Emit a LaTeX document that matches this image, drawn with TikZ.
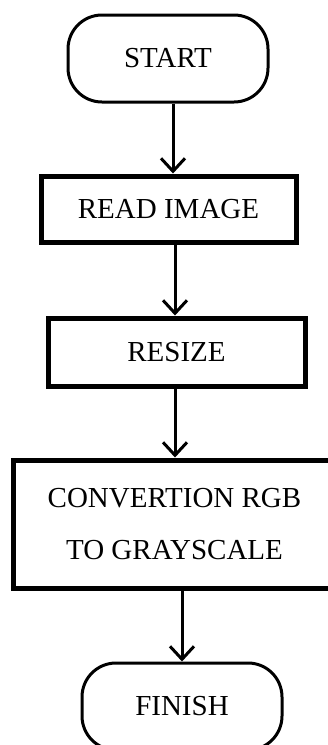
\documentclass[tikz,border=0pt]{standalone}
\usepackage{fontspec}
\setmainfont{Liberation Serif}
\usetikzlibrary{arrows.meta}
\begin{document}
\begin{tikzpicture}[x=1pt,y=-1pt,
  txt/.style={font=\fontsize{29}{52}\selectfont, align=center, inner sep=0pt},
  term/.style={txt, draw, line width=3pt, rounded corners=34pt},
  proc/.style={txt, draw, line width=5pt},
  arr/.style={line width=3pt, -{Straight Barb[length=13pt,width=24pt,line width=3pt]}}]
\useasboundingbox (0,0) rectangle (327,745);
\fill[white] (0,0) rectangle (327,745);
\node[term, minimum width=200pt, minimum height=87pt] (start) at (168,58.5) {START};
\node[proc, minimum width=255pt, minimum height=66pt] (read) at (168.5,209) {READ IMAGE};
\node[proc, minimum width=257pt, minimum height=68pt] (resize) at (176.5,352) {RESIZE};
\node[proc, minimum width=323pt, minimum height=128pt] (conv) at (174.5,524) {CONVERTION RGB\\TO GRAYSCALE};
\node[term, minimum width=200pt, minimum height=87pt] (finish) at (182,706.5) {FINISH};
\coordinate (a1) at (173,0);
\coordinate (a2) at (175,0);
\coordinate (a3) at (175,0);
\coordinate (a4) at (182,0);
\draw[arr] (start.south -| a1) -- (read.north -| a1);
\draw[arr] (read.south -| a2) -- (resize.north -| a2);
\draw[arr] (resize.south -| a3) -- (conv.north -| a3);
\draw[arr] (conv.south -| a4) -- (finish.north -| a4);
\end{tikzpicture}
\end{document}
